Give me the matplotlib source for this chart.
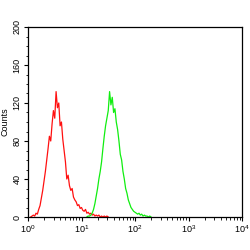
import numpy as np
import matplotlib
matplotlib.use("Agg")
import matplotlib.pyplot as plt
from matplotlib.ticker import MultipleLocator, LogLocator

plt.rcParams['font.family'] = ['Liberation Sans', 'DejaVu Sans']
plt.rcParams['mathtext.fontset'] = 'custom'
plt.rcParams['mathtext.rm'] = 'Liberation Sans'
plt.rcParams['mathtext.it'] = 'Liberation Sans'
plt.rcParams['mathtext.default'] = 'regular'

# log10 positions (decades) and counts
red_start, red_step = 0.05, 0.025
red_counts = [0, 1, 2, 1, 4, 3, 8, 12, 20, 28, 38, 48, 60, 72, 85, 80, 98, 112, 104, 132,
              115, 120, 96, 100, 82, 70, 58, 40, 44, 33, 28, 30, 21, 18, 16, 12, 13, 9, 10, 7,
              6, 8, 4, 5, 3, 4, 2, 3, 1, 2, 1, 2, 0, 1, 0, 1, 0, 1, 0]
green_start, green_step = 1.10, 0.025
green_counts = [0, 1, 1, 2, 4, 8, 14, 22, 30, 40, 48, 58, 72, 85, 96, 104, 112, 132, 118, 126,
                110, 114, 100, 92, 80, 66, 60, 48, 40, 30, 25, 18, 14, 10, 8, 6, 5, 4, 3, 4,
                2, 3, 1, 2, 1, 1, 0, 1, 0]

red_x = 10 ** (red_start + red_step * np.arange(len(red_counts)))
green_x = 10 ** (green_start + green_step * np.arange(len(green_counts)))

fig = plt.figure(figsize=(2.5, 2.5), dpi=100)
ax = fig.add_axes([0.112, 0.132, 0.856, 0.760])
ax.plot(red_x, red_counts, color='#ff1010', lw=0.9)
ax.plot(green_x, green_counts, color='#10ee10', lw=0.9)

ax.set_xscale('log')
ax.set_xlim(1, 1e4)
ax.set_ylim(0, 200)
ax.yaxis.set_major_locator(MultipleLocator(40))
ax.yaxis.set_minor_locator(MultipleLocator(10))
ax.xaxis.set_major_locator(LogLocator(base=10, numticks=10))
ax.xaxis.set_minor_locator(LogLocator(base=10, subs=np.arange(2, 10), numticks=50))
ax.tick_params(axis='both', which='major', length=3, width=0.8, labelsize=6.5, pad=1.5)
ax.tick_params(axis='both', which='minor', length=1.8, width=0.6)
for lab in ax.get_yticklabels():
    lab.set_rotation(90)
    lab.set_va('center')
ax.set_ylabel('Counts', fontsize=6.5, labelpad=2)
for s in ax.spines.values():
    s.set_linewidth(0.9)

fig.savefig('out.png', dpi=100)
